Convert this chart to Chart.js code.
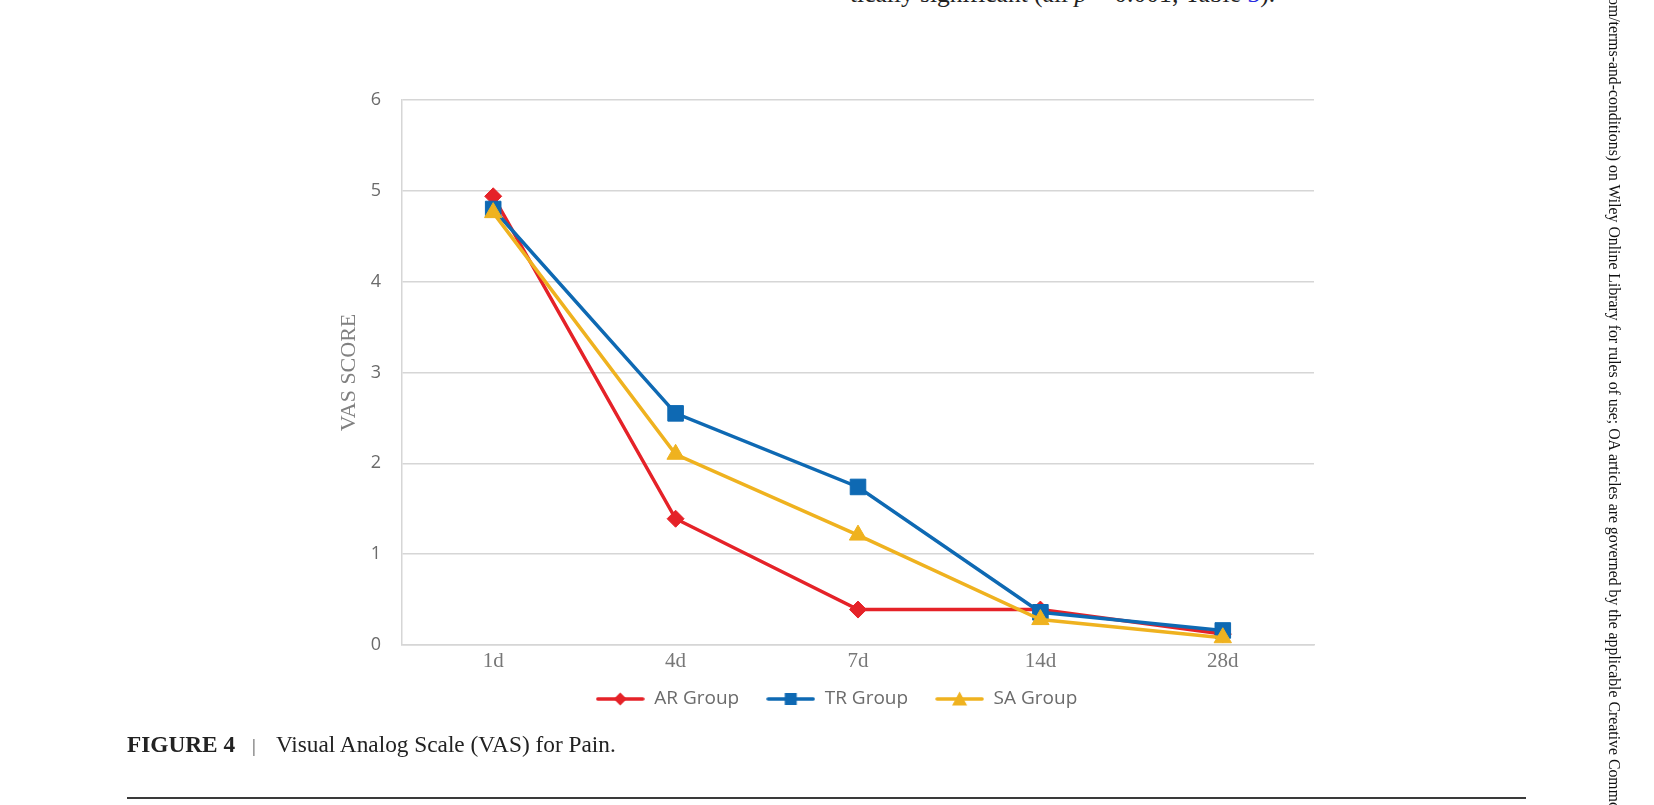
<!DOCTYPE html>
<html>
<head>
<meta charset="utf-8">
<script src="https://cdn.jsdelivr.net/npm/chart.js@4.4.1/dist/chart.umd.min.js"></script>
<style>
  html, body { margin: 0; padding: 0; background: #fff; }
  body { width: 1654px; height: 805px; position: relative; overflow: hidden; }
  #wrap { position: absolute; left: 0; top: 0; width: 1654px; height: 740px; }
  .body-text { position: absolute; left: 850px; top: -19px; font: 25.5px/25px "Liberation Serif", serif; color: #222; white-space: nowrap; }
  .body-text a { color: #2a2ae0; text-decoration: none; }
  .caption { position: absolute; left: 127px; top: 730px; font: 23.3px/28px "Liberation Serif", serif; color: #222; white-space: nowrap; }
  .caption .sep { color: #555; font-size: 19px; margin: 0 20px 0 17px; }
  .rule { position: absolute; left: 127px; top: 797px; width: 1399px; height: 2px; background: #3a3a3a; }
  .side { position: absolute; left: 1605px; top: -3px; writing-mode: vertical-rl; font: 15.8px/18px "Liberation Serif", serif; color: #111; white-space: nowrap; }
</style>
</head>
<body>
<div class="body-text">tically significant (all <i>p</i> &lt; 0.001; Table <a>3</a>).</div>
<div id="wrap"><canvas id="chart"></canvas></div>
<div class="caption"><b>FIGURE 4</b><span class="sep">|</span>Visual Analog Scale (VAS) for Pain.</div>
<div class="rule"></div>
<div class="side">om/terms-and-conditions) on Wiley Online Library for rules of use; OA articles are governed by the applicable Creative Commons License</div>
<script>
  // values
  var categories = ['1d', '4d', '7d', '14d', '28d'];
  var seriesNames = ['AR Group', 'TR Group', 'SA Group'];
  var arValues = [4.94, 1.39, 0.39, 0.39, 0.12];
  var trValues = [4.80, 2.55, 1.74, 0.36, 0.16];
  var saValues = [4.76, 2.10, 1.21, 0.28, 0.08];
  var yMin = 0, yMax = 6, yStep = 1;

  var RED = '#e52228';
  var BLUE = '#0e69b3';
  var YELLOW = '#efb21f';
  var GRID = '#d6d6d6';

  // legend icon: line with the marker in the middle
  function legendIcon(color, shape) {
    var c = document.createElement('canvas');
    c.width = 49; c.height = 18;
    var ctx = c.getContext('2d');
    ctx.strokeStyle = color;
    ctx.fillStyle = color;
    ctx.lineWidth = 3.5;
    ctx.lineCap = 'round';
    ctx.beginPath(); ctx.moveTo(2, 9); ctx.lineTo(47, 9); ctx.stroke();
    ctx.beginPath();
    if (shape === 'diamond') {
      ctx.moveTo(24.5, 2.5); ctx.lineTo(31, 9); ctx.lineTo(24.5, 15.5); ctx.lineTo(18, 9);
    } else if (shape === 'square') {
      ctx.rect(18.5, 3, 12, 12);
    } else {
      ctx.moveTo(24.5, 1.5); ctx.lineTo(32, 15.5); ctx.lineTo(17, 15.5);
    }
    ctx.closePath(); ctx.fill();
    return c;
  }
  var icons = [legendIcon(RED, 'diamond'), legendIcon(BLUE, 'square'), legendIcon(YELLOW, 'triangle')];

  function lineSet(label, data, color, style, radius, order) {
    return {
      label: label,
      data: data,
      borderColor: color,
      backgroundColor: color,
      borderWidth: 3.5,
      tension: 0,
      pointStyle: style,
      pointRadius: radius,
      pointBackgroundColor: color,
      pointBorderColor: color,
      pointBorderWidth: 1,
      order: order
    };
  }

  // legend padding also sets item spacing, so nudge the row up after layout
  var legendNudge = {
    id: 'legendNudge',
    afterLayout: function (chart) {
      if (!chart.legend) return;
      chart.legend.top -= 12.5;
      chart.legend.bottom -= 12.5;
    }
  };

  Chart.defaults.animation = false;

  new Chart(document.getElementById('chart'), {
    type: 'line',
    data: {
      labels: categories,
      datasets: [
        lineSet(seriesNames[0], arValues, RED, 'rectRot', 8.5, 3),
        lineSet(seriesNames[1], trValues, BLUE, 'rect', 11, 2),
        lineSet(seriesNames[2], saValues, YELLOW, 'triangle', 10, 1)
      ]
    },
    plugins: [legendNudge],
    options: {
      responsive: true,
      maintainAspectRatio: false,
      events: [],
      layout: { padding: { left: 359, right: 340, top: 100, bottom: 9 } },
      plugins: {
        tooltip: { enabled: false },
        legend: {
          position: 'bottom',
          labels: {
            usePointStyle: true,
            pointStyleWidth: 49,
            padding: 27,
            color: '#6b6b6b',
            font: { family: '"Open Sans", sans-serif', size: 19 },
            sort: function (a, b) { return a.datasetIndex - b.datasetIndex; },
            generateLabels: function (chart) {
              var items = Chart.defaults.plugins.legend.labels.generateLabels(chart);
              items.forEach(function (it) { it.pointStyle = icons[it.datasetIndex]; });
              return items;
            }
          }
        }
      },
      scales: {
        x: {
          offset: true,
          grid: { display: false, drawTicks: false },
          border: { display: true, color: GRID, width: 1.5 },
          ticks: {
            padding: 4,
            color: '#777',
            font: { family: '"Liberation Serif", serif', size: 21 }
          },
          afterFit: function (s) { s.height = 30; }
        },
        y: {
          min: yMin,
          max: yMax,
          grid: { color: GRID, lineWidth: 1.5, drawTicks: false },
          border: { display: true, color: GRID, width: 1.5 },
          ticks: {
            stepSize: yStep,
            padding: 21,
            color: '#6b6b6b',
            font: { family: '"Open Sans", sans-serif', size: 18 }
          },
          title: {
            display: true,
            text: 'VAS SCORE',
            color: '#808080',
            padding: { top: -23.2, bottom: 0 },
            font: { family: '"Liberation Serif", serif', size: 22 }
          },
          afterFit: function (s) { s.width = 43; }
        }
      }
    }
  });
</script>
</body>
</html>
